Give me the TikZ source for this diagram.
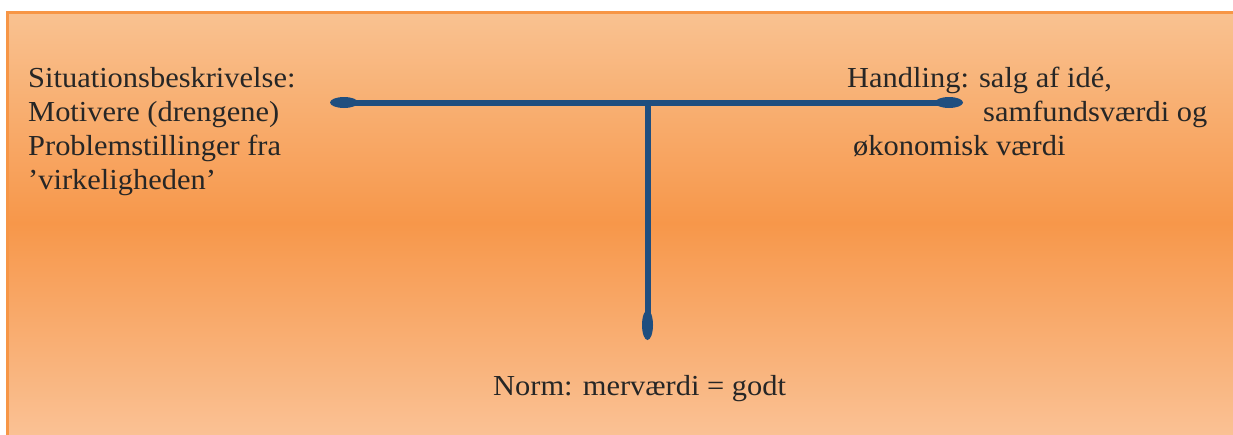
\documentclass[tikz,border=0pt]{standalone}
\usepackage{fontspec}
\setmainfont[FakeStretch=1.05]{Liberation Serif}
\usetikzlibrary{shapes.geometric}
\definecolor{panelborder}{HTML}{F79646}
\definecolor{paneltop}{HTML}{F9C291}
\definecolor{panelmid}{HTML}{F7974A}
\definecolor{panelbot}{HTML}{FAC194}
\definecolor{barblue}{HTML}{1F4E7F}
\definecolor{inktext}{HTML}{262626}
\tikzset{
  label/.style={anchor=base west, inner sep=0pt, text=inktext,
    font=\fontsize{29}{34}\selectfont},
  hknob/.style={ellipse, fill=barblue, inner sep=0pt,
    minimum width=28pt, minimum height=11pt},
  vknob/.style={ellipse, fill=barblue, inner sep=0pt,
    minimum width=11pt, minimum height=30pt},
  bar/.style={draw=barblue, line width=6pt},
}
\begin{document}
\begin{tikzpicture}[x=1pt, y=-1pt]
\useasboundingbox (0,0) rectangle (1233,434);
\clip (0,0) rectangle (1233,434);
% shaded panel, running off the right and bottom edges
\shade[top color=paneltop, bottom color=panelbot, middle color=panelmid]
  (7,12) rectangle (1300,434.5);
\draw[panelborder, line width=2.5pt] (7.25,446) -- (7.25,12.25) -- (1300,12.25);

% bar ends and junction
\node[hknob] (L) at (344,102.5) {};
\node[hknob] (R) at (949,102.5) {};
\coordinate (J) at (647.5,102.5);
\node[vknob] (B) at (647.5,325) {};
\draw[bar] (L.center) -- (R.center);
\draw[bar] (J) -- (B.center);

% left text
\node[label] (s1) at (28,87) {Situationsbeskrivelse:};
\node[label] (s2) at (28,121) {Motivere (drengene)};
\node[label] (s3) at (28,155) {Problemstillinger fra};
\node[label] (s4) at (28,189) {’virkeligheden’};

% right text
\node[label] (h1) at (847,87) {Handling: salg af idé,};
\node[label] (h2) at (983,121) {samfundsværdi og};
\node[label] (h3) at (853,155) {økonomisk værdi};

% bottom text
\node[label] (n1) at (493,395) {Norm: merværdi = godt};
\end{tikzpicture}
\end{document}
